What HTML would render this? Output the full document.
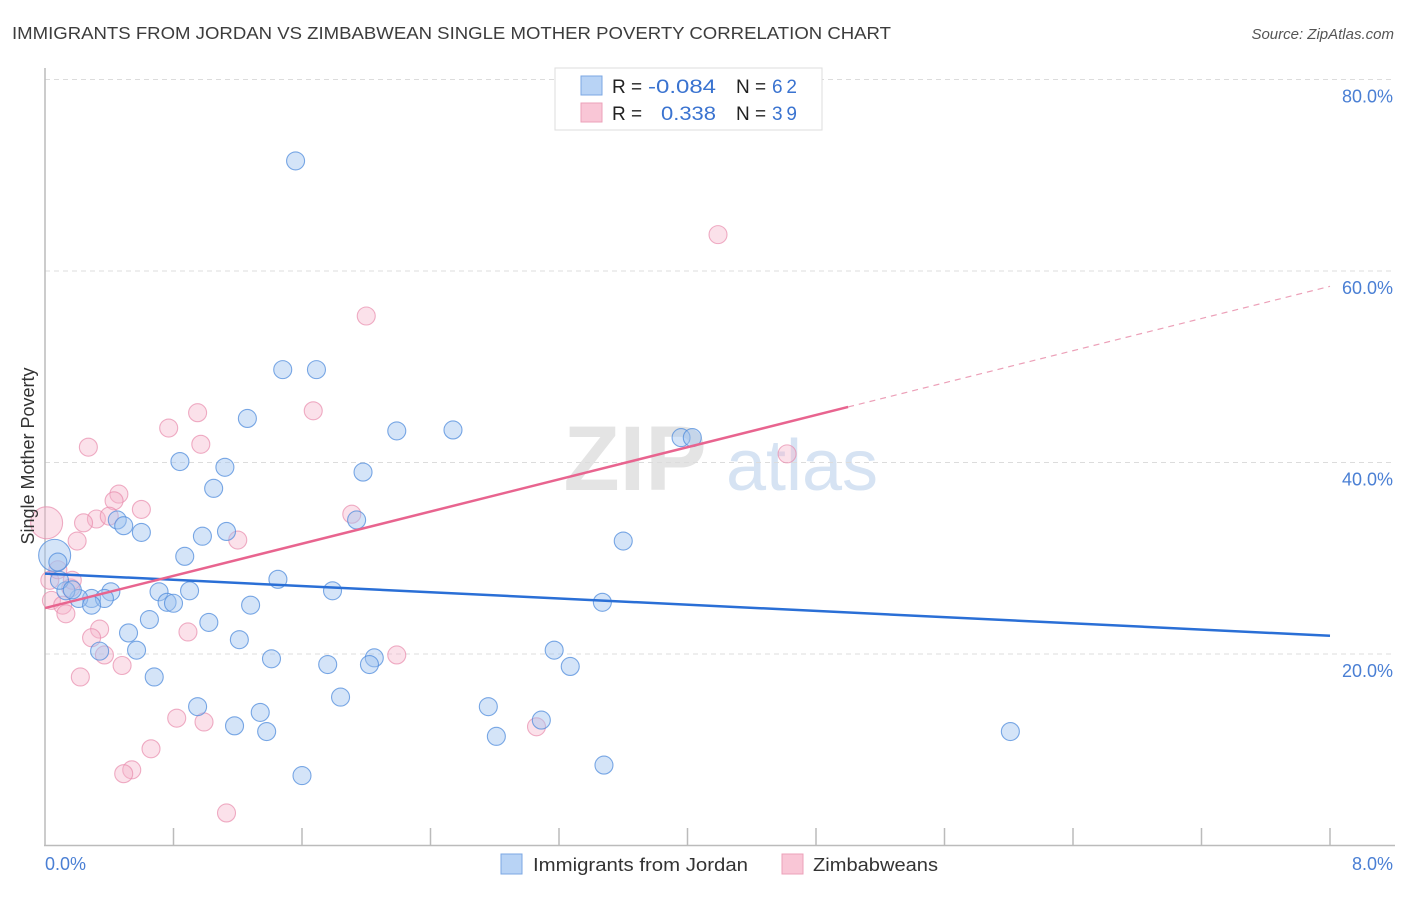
<!DOCTYPE html>
<html><head><meta charset="utf-8"><style>
body{margin:0;background:#fff;font-family:"Liberation Sans",sans-serif;}
svg text{font-family:"Liberation Sans",sans-serif;}
</style></head><body>
<svg id="chart" width="1406" height="892" viewBox="0 0 1406 892" xmlns="http://www.w3.org/2000/svg">
<text x="12" y="39" font-size="17.5" fill="#3c3c3c" textLength="879" lengthAdjust="spacingAndGlyphs">IMMIGRANTS FROM JORDAN VS ZIMBABWEAN SINGLE MOTHER POVERTY CORRELATION CHART</text>
<text x="1394" y="39" font-size="15" fill="#555" font-style="italic" text-anchor="end">Source: ZipAtlas.com</text>
<g>
<text x="635" y="490" font-size="92" fill="#e4e4e4" font-family="Liberation Serif" text-anchor="middle" font-weight="bold">ZIP</text>
<text x="802" y="490" font-size="72" fill="#d6e3f3" text-anchor="middle">atlas</text>
</g>
<g id="grid"></g>
<g id="axes"></g>
<g id="pts"></g>
<g id="trends"></g>
<text x="34" y="456" font-size="18" fill="#333" text-anchor="middle" transform="rotate(-90 34 456)">Single Mother Poverty</text>
<text x="45" y="870" font-size="18" fill="#4a7fd4">0.0%</text>
<text x="1393" y="870" font-size="18" fill="#4a7fd4" text-anchor="end">8.0%</text>
<g>
<rect x="555" y="68" width="267" height="62" fill="#fff" stroke="#ddd"/>
<rect x="581" y="76" width="21" height="19" fill="#b8d3f5" stroke="#7ba7e3"/>
<rect x="581" y="103" width="21" height="19" fill="#f9c6d6" stroke="#eca1b9"/>
<text x="612" y="93" font-size="19" fill="#222">R =</text>
<text x="648" y="93" font-size="19" fill="#3a73d0" textLength="68" lengthAdjust="spacingAndGlyphs">-0.084</text>
<text x="736" y="93" font-size="19" fill="#222">N =</text>
<text x="772" y="93" font-size="19" fill="#3a73d0" textLength="25">62</text>
<text x="612" y="120" font-size="19" fill="#222">R =</text>
<text x="661" y="120" font-size="19" fill="#3a73d0" textLength="55" lengthAdjust="spacingAndGlyphs">0.338</text>
<text x="736" y="120" font-size="19" fill="#222">N =</text>
<text x="772" y="120" font-size="19" fill="#3a73d0" textLength="25">39</text>
</g>
<g>
<rect x="501" y="854" width="21" height="20" fill="#b8d3f5" stroke="#7ba7e3"/>
<text x="533" y="871" font-size="18" fill="#333" textLength="215" lengthAdjust="spacingAndGlyphs">Immigrants from Jordan</text>
<rect x="782" y="854" width="21" height="20" fill="#f9c6d6" stroke="#eca1b9"/>
<text x="813" y="871" font-size="18" fill="#333" textLength="125" lengthAdjust="spacingAndGlyphs">Zimbabweans</text>
</g>
</svg>
<script>
const yTicks=[20,40,60,80];
const yTickLabels=["20.0%","40.0%","60.0%","80.0%"];
const xTickVals=[0.8,1.6,2.4,3.2,4.0,4.8,5.6,6.4,7.2,8.0];
const blueX=[1.56,1.48,1.69,1.26,2.19,2.54,0.84,1.12,1.98,1.05,3.96,4.03,0.45,0.49,0.60,0.98,1.13,1.94,3.60,0.87,1.45,0.71,0.90,0.41,0.29,0.21,0.13,0.37,0.76,0.80,1.28,1.79,3.47,0.65,1.02,0.52,1.21,0.34,0.57,1.41,1.76,2.05,2.02,3.17,3.27,0.68,0.95,1.34,1.84,2.76,1.18,1.38,3.09,2.81,6.01,3.48,1.60,0.06,0.08,0.09,0.17,0.29];
const blueY=[71.5,49.7,49.7,44.6,43.3,43.4,40.1,39.5,39.0,37.3,42.6,42.6,34.0,33.4,32.7,32.3,32.8,34.0,31.8,30.2,27.8,26.5,26.6,26.5,25.8,25.8,26.6,25.8,25.4,25.3,25.1,26.6,25.4,23.6,23.3,22.2,21.5,20.3,20.4,19.5,18.9,19.6,18.9,20.4,18.7,17.6,14.5,13.9,15.5,14.5,12.5,11.9,13.1,11.4,11.9,8.4,7.3,30.3,29.6,27.7,26.7,25.1];
const blueBig=[57];
const pinkX=[4.19,2.00,1.67,0.95,0.77,0.27,0.97,4.62,0.46,0.60,0.43,0.32,0.24,0.40,1.91,1.20,0.20,0.01,0.03,0.08,0.04,0.16,0.11,0.13,0.34,0.29,0.37,0.89,0.48,0.22,2.19,0.82,0.99,3.06,0.66,0.54,0.49,1.13,0.17];
const pinkY=[63.8,55.3,45.4,45.2,43.6,41.6,41.9,40.9,36.7,35.1,36.0,34.1,33.7,34.4,34.6,31.9,31.8,33.7,27.7,28.8,25.6,26.9,25.1,24.2,22.6,21.7,19.9,22.3,18.8,17.6,19.9,13.3,12.9,12.4,10.1,7.9,7.5,3.4,27.7];
const pinkBig=[17];
const blueTrend=[28.4,21.9];
const pinkTrend=[24.8,58.4];
const pinkSolidEnd=5.0;

const NS="http://www.w3.org/2000/svg";
const X0=45,X1=1330,Y0=845.5,YS=191.5/20;
function sx(v){return X0+v/8*(X1-X0);}
function sy(v){return Y0-v*YS;}
function mk(tag,attrs,parent){const e=document.createElementNS(NS,tag);for(const k in attrs)e.setAttribute(k,attrs[k]);parent.appendChild(e);return e;}
const grid=document.getElementById('grid'),axes=document.getElementById('axes'),pts=document.getElementById('pts'),tr=document.getElementById('trends');
yTicks.forEach((t,i)=>{
 const l=mk('line',{x1:45,x2:1395,y1:sy(t),y2:sy(t),stroke:'#dcdcdc','stroke-dasharray':'5,4'},grid);
 
 
 const tx=mk('text',{x:1393,y:sy(t)+23,'font-size':18,fill:'#4a7fd4','text-anchor':'end'},grid);
 tx.textContent=yTickLabels[i];
 
 
});
const ya=mk('line',{x1:45,x2:45,y1:68,y2:846,stroke:'#bbb','stroke-width':1.5},axes);


const xa=mk('line',{x1:44,x2:1395,y1:845.5,y2:845.5,stroke:'#bbb','stroke-width':1.5},axes);


xTickVals.forEach(v=>{
 const t=mk('line',{x1:sx(v),x2:sx(v),y1:828,y2:845,stroke:'#bbb','stroke-width':1.5},axes);
 
 
});
function drawPts(xs,ys,big,fill,stroke,name){
 xs.forEach((x,i)=>{
  const r=big.includes(i)?16:9;
  const c=mk('circle',{cx:sx(x),cy:sy(ys[i]),r:r,fill:fill,stroke:stroke,'stroke-width':1.1},pts);
  
  
 });
}
drawPts(pinkX,pinkY,pinkBig,'rgba(246,180,202,0.4)','rgba(232,140,172,0.7)','zimbabwean-point');
drawPts(blueX,blueY,blueBig,'rgba(160,196,240,0.45)','rgba(80,140,220,0.75)','jordan-point');
const bl=mk('line',{x1:sx(0),y1:sy(blueTrend[0]),x2:sx(8),y2:sy(blueTrend[1]),stroke:'#2a6fd6','stroke-width':2.5},tr);


const pAt=v=>pinkTrend[0]+(pinkTrend[1]-pinkTrend[0])*v/8;
const pl=mk('line',{x1:sx(0),y1:sy(pAt(0)),x2:sx(pinkSolidEnd),y2:sy(pAt(pinkSolidEnd)),stroke:'#e8648f','stroke-width':2.5},tr);


const pd=mk('line',{x1:sx(pinkSolidEnd),y1:sy(pAt(pinkSolidEnd)),x2:sx(8),y2:sy(pAt(8)),stroke:'#eca0b8','stroke-width':1.2,'stroke-dasharray':'6,5'},tr);


</script>
</body></html>
